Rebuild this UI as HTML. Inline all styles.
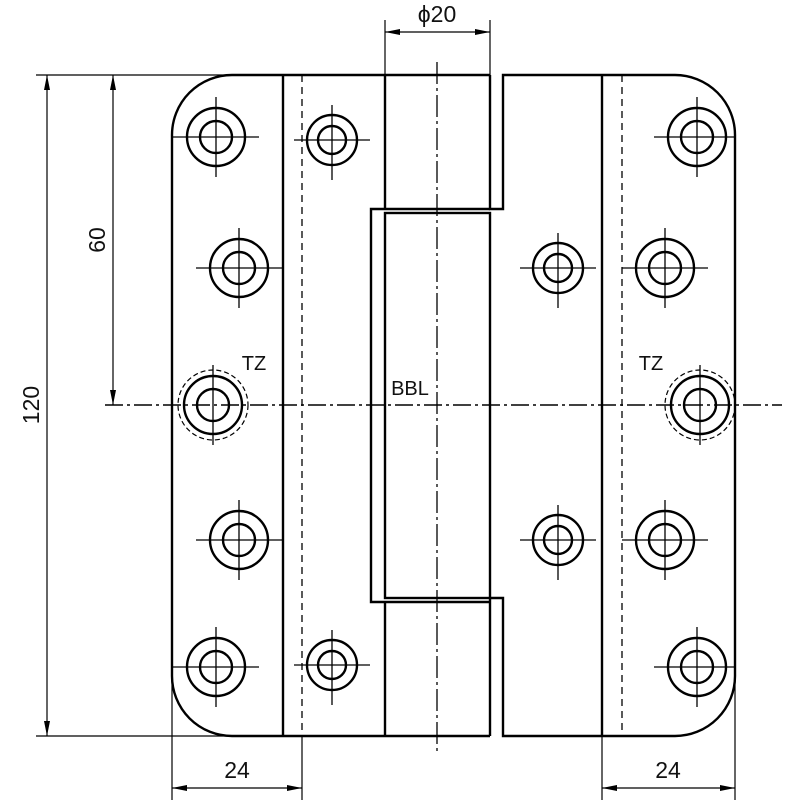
<!DOCTYPE html>
<html><head><style>html,body{margin:0;padding:0;background:#fff}svg{display:block}</style></head>
<body>
<svg width="800" height="800" viewBox="0 0 800 800" xmlns="http://www.w3.org/2000/svg" font-family="Liberation Sans, DejaVu Sans, sans-serif">
<defs>
<marker id="a" viewBox="0 0 10 4" refX="10" refY="2" markerWidth="20" markerHeight="6" markerUnits="userSpaceOnUse" orient="auto-start-reverse"><path d="M0,0 L10,2 L0,4z" fill="#000"/></marker>
</defs>
<g fill="none" stroke="#000">
<g stroke-width="2.4">
<path d="M283,75 L232,75 A60,60 0 0 0 172,135 L172,676 A60,60 0 0 0 232,736 L283,736"/>
<line x1="283" y1="75" x2="490" y2="75"/>
<line x1="283" y1="736" x2="490" y2="736"/>
<line x1="283" y1="75" x2="283" y2="736"/>
<line x1="385" y1="75" x2="385" y2="209"/>
<line x1="385" y1="602" x2="385" y2="736"/>
<path d="M490,75 L490,209 L503,209 L503,75 L675,75 A60,60 0 0 1 735,135 L735,676 A60,60 0 0 1 675,736 L503,736 L503,598 L490,598 L490,736"/>
<line x1="602" y1="75" x2="602" y2="736"/>
<path d="M385,209 L371,209 L371,602 L385,602"/>
<line x1="385" y1="209" x2="490" y2="209"/>
<line x1="385" y1="602" x2="490" y2="602"/>
<rect x="385" y="213" width="105" height="385"/>
</g>
<line x1="302" y1="75" x2="302" y2="736" stroke-width="1.3" stroke-dasharray="7,5"/>
<line x1="622" y1="75" x2="622" y2="736" stroke-width="1.3" stroke-dasharray="7,5"/>
<line x1="105" y1="405" x2="782" y2="405" stroke-width="1.6" stroke-dasharray="18,4,3,4"/>
<line x1="437" y1="62" x2="437" y2="752" stroke-width="1.3" stroke-dasharray="22,4,3,4"/>
<g stroke-width="2.4">
<circle cx="216" cy="137" r="29"/><circle cx="216" cy="137" r="16"/>
<circle cx="239" cy="268" r="29"/><circle cx="239" cy="268" r="16"/>
<circle cx="213" cy="405" r="29"/><circle cx="213" cy="405" r="16"/>
<circle cx="239" cy="540" r="29"/><circle cx="239" cy="540" r="16"/>
<circle cx="216" cy="667" r="29"/><circle cx="216" cy="667" r="16"/>
<circle cx="332" cy="140" r="25"/><circle cx="332" cy="140" r="14"/>
<circle cx="332" cy="665" r="25"/><circle cx="332" cy="665" r="14"/>
<circle cx="558" cy="268" r="25"/><circle cx="558" cy="268" r="14"/>
<circle cx="558" cy="540" r="25"/><circle cx="558" cy="540" r="14"/>
<circle cx="697" cy="137" r="29"/><circle cx="697" cy="137" r="16"/>
<circle cx="665" cy="268" r="29"/><circle cx="665" cy="268" r="16"/>
<circle cx="700" cy="405" r="29"/><circle cx="700" cy="405" r="16"/>
<circle cx="665" cy="540" r="29"/><circle cx="665" cy="540" r="16"/>
<circle cx="697" cy="667" r="29"/><circle cx="697" cy="667" r="16"/>
</g>
<circle cx="213" cy="405" r="35" stroke-width="1.2" stroke-dasharray="5,3"/>
<circle cx="700" cy="405" r="35" stroke-width="1.2" stroke-dasharray="5,3"/>
<g stroke-width="1.3">
<path d="M172,137h87M216,97v80 M196,268h87M239,228v80 M213,365v80 M196,540h87M239,500v80 M172,667h87M216,627v80
M294,140h76M332,105v75 M294,665h76M332,630v75
M520,268h76M558,233v75 M520,540h76M558,505v75
M654,137h82M697,97v80 M622,268h86M665,228v80 M700,365v80 M622,540h86M665,500v80 M654,667h82M697,627v80"/>
</g>
<g stroke-width="1.2">
<line x1="36" y1="75" x2="232" y2="75"/>
<line x1="36" y1="736" x2="232" y2="736"/>
<line x1="47" y1="75" x2="47" y2="736" marker-start="url(#a)" marker-end="url(#a)"/>
<line x1="113" y1="75" x2="113" y2="405" marker-start="url(#a)" marker-end="url(#a)"/>
<line x1="385" y1="20" x2="385" y2="75"/>
<line x1="490" y1="20" x2="490" y2="75"/>
<line x1="385" y1="32" x2="490" y2="32" marker-start="url(#a)" marker-end="url(#a)"/>
<line x1="172" y1="676" x2="172" y2="800"/>
<line x1="302" y1="736" x2="302" y2="800"/>
<line x1="172" y1="788" x2="302" y2="788" marker-start="url(#a)" marker-end="url(#a)"/>
<line x1="602" y1="736" x2="602" y2="800"/>
<line x1="735" y1="676" x2="735" y2="800"/>
<line x1="602" y1="788" x2="735" y2="788" marker-start="url(#a)" marker-end="url(#a)"/>
</g>
</g>
<g fill="#111" font-size="23">
<text x="437" y="22" text-anchor="middle">ϕ20</text>
<text x="237" y="778" text-anchor="middle">24</text>
<text x="668" y="778" text-anchor="middle">24</text>
<text transform="translate(39,405) rotate(-90)" text-anchor="middle">120</text>
<text transform="translate(105,240) rotate(-90)" text-anchor="middle">60</text>
<text x="254" y="370" text-anchor="middle" font-size="20">TZ</text>
<text x="651" y="370" text-anchor="middle" font-size="20">TZ</text>
<text x="410" y="395" text-anchor="middle" font-size="20">BBL</text>
</g>
</svg>
</body></html>
